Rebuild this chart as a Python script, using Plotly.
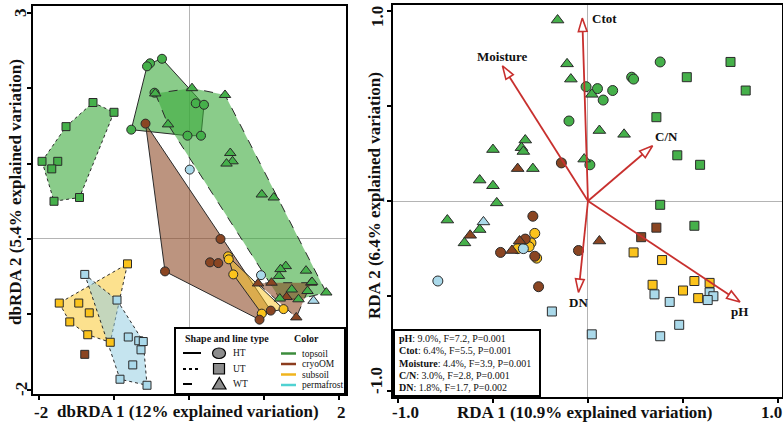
import plotly.graph_objects as go

# ---------------- dbRDA ordination (left panel) ----------------
db_topsoil_ht_x = [-0.36, -0.52, -0.56, -0.46, 0.09, 0.20, -0.77, -0.02, 0.16]
db_topsoil_ht_y = [2.39, 2.33, 2.29, 1.94, 1.80, 1.78, 1.45, 1.37, 1.37]
db_topsoil_ut_x = [-1.28, -1.00, -1.64, -1.96, -1.75, -1.83, -1.80, -1.46]
db_topsoil_ut_y = [1.81, 1.68, 1.49, 1.03, 1.03, 0.93, 0.50, 0.55]
db_topsoil_wt_x = [0.04, 0.48, -0.45, -0.28, 0.55, 0.58, 0.50, 0.97, 1.13,
                   1.29, 1.22, 1.56, 1.20, 1.64, 1.37, 1.58, 1.83, 1.21, 1.46]
db_topsoil_wt_y = [2.00, 1.91, 1.93, 1.52, 1.14, 1.03, 1.00, 0.59, 0.55,
                   -0.36, -0.40, -0.42, -0.49, -0.57, -0.67, -0.69, -0.71, -0.79, -0.80]

db_cryo_ht_x = [-0.58, 0.42, 0.28, 0.39, -0.32, 0.94, 1.09]
db_cryo_ht_y = [1.53, 0.00, -0.31, -0.32, -0.43, -1.07, -0.95]
db_cryo_ut_x = [-1.39]
db_cryo_ut_y = [-1.53]
db_cryo_wt_x = [0.92, 1.10, 1.30, 1.43, 1.63]
db_cryo_wt_y = [-0.59, -0.58, -0.77, -1.04, -0.58]

db_sub_ht_x = [0.52, 0.53, 0.59, 0.97, 1.26]
db_sub_ht_y = [-0.23, -0.27, -0.47, -0.99, -0.93]
db_sub_ut_x = [-0.82, -1.73, -1.47, -1.33, -1.59, -1.35, -1.05]
db_sub_ut_y = [-0.33, -0.85, -0.85, -0.98, -1.10, -1.27, -1.37]

db_perm_ht_x = [0.01, 0.96]
db_perm_ht_y = [0.92, -0.48]
db_perm_ut_x = [-1.39, -0.96, -0.81, -0.67, -0.61, -0.64, -0.75, -0.92, -0.56]
db_perm_ut_y = [-0.47, -0.81, -1.30, -1.35, -1.36, -1.47, -1.67, -1.86, -1.94]
db_perm_wt_x = [1.66]
db_perm_wt_y = [-0.82]

# ---------------- RDA ordination (right panel) ----------------
rda_topsoil_ht_x = [0.38, 0.23, 0.24, -0.01, 0.05, 0.13, 0.08, -0.10, 0.01]
rda_topsoil_ht_y = [0.73, 0.65, 0.64, 0.60, 0.59, 0.58, 0.53, 0.42, 0.19]
rda_topsoil_ut_x = [0.75, 0.52, 0.83, 0.36, 0.47, 0.59, 0.38, 0.56]
rda_topsoil_ut_y = [0.73, 0.65, 0.58, 0.44, 0.24, 0.19, -0.02, -0.13]
rda_topsoil_wt_x = [-0.16, -0.11, -0.09, 0.02, 0.06, 0.19, -0.33, -0.35, -0.34,
                    -0.50, -0.29, -0.02, -0.57, -0.50, -0.48, -0.74, -0.57, -0.65]
rda_topsoil_wt_y = [0.95, 0.72, 0.64, 0.56, 0.37, 0.35, 0.32, 0.28, 0.26,
                    0.27, 0.17, 0.22, 0.11, 0.08, -0.01, -0.10, -0.15, -0.22]

rda_cryo_ht_x = [-0.14, -0.29, -0.46, -0.05, -0.26, -0.28, -0.33]
rda_cryo_ht_y = [0.20, -0.08, -0.27, -0.26, -0.45, -0.29, -0.20]
rda_cryo_ut_x = [0.36, 0.28]
rda_cryo_ut_y = [-0.14, -0.19]
rda_cryo_wt_x = [-0.37, -0.62, -0.36, -0.40, 0.06]
rda_cryo_wt_y = [0.17, -0.18, -0.21, -0.26, -0.21]

rda_sub_ht_x = [-0.28, -0.30, -0.31, -0.37, -0.27]
rda_sub_ht_y = [-0.17, -0.22, -0.24, -0.25, -0.30]
rda_sub_ut_x = [0.24, 0.39, 0.34, 0.56, 0.50, 0.64, 0.58]
rda_sub_ut_y = [-0.27, -0.31, -0.44, -0.42, -0.47, -0.43, -0.51]

rda_perm_ht_x = [-0.34, -0.79]
rda_perm_ht_y = [-0.25, -0.42]
rda_perm_ut_x = [-0.19, 0.02, 0.35, 0.43, 0.48, 0.38, 0.64, 0.66, 0.63]
rda_perm_ut_y = [-0.58, -0.70, -0.49, -0.53, -0.65, -0.71, -0.48, -0.50, -0.52]
rda_perm_wt_x = [-0.55]
rda_perm_wt_y = [-0.11]

# environmental fitted vectors
env_names = ["Ctot", "Moisture", "C/N", "DN", "pH"]
env_x = [-0.03, -0.45, 0.34, -0.05, 0.80]
env_y = [0.96, 0.71, 0.29, -0.48, -0.53]

# forward-selection statistics
stat_var = ["pH", "Ctot", "Moisture", "C/N", "DN"]
stat_pct = [9.0, 6.4, 4.4, 3.0, 1.8]
stat_f = [7.2, 5.5, 3.9, 2.8, 1.7]
stat_p = [0.001, 0.001, 0.001, 0.001, 0.002]

layers = ["topsoil", "cryoOM", "subsoil", "permafrost"]
sites = ["HT", "UT", "WT"]

# axis ticks (only the outer ones carry a label)
db_xticks = [-2, -1, 0, 1, 2]
db_yticks = [-2, -1, 0, 1, 2, 3]
rda_ticks = [-1.0, -0.5, 0.0, 0.5, 1.0]

# ---------------- styling ----------------
W, H = 783, 425
SERIF = "Liberation Serif"
RED = "#c8302e"
MARK = {"topsoil": "#45b04a", "cryoOM": "#8a4522", "subsoil": "#fbc31c", "permafrost": "#aad9ea"}
FILL = {"topsoil": "rgba(60,170,60,0.6)", "cryoOM": "rgba(140,70,35,0.58)",
        "subsoil": "rgba(250,195,30,0.5)", "permafrost": "rgba(150,205,225,0.55)"}
LEG = {"topsoil": "#3c8c3c", "cryoOM": "#8c3c1e", "subsoil": "#f0b41e", "permafrost": "#50d2d2"}
SYM = {"HT": "circle", "UT": "square", "WT": "triangle-up"}
DASH = {"HT": "solid", "UT": "dot", "WT": "dash"}


def pxx(x):
    return x / W


def pxy(y):
    return 1 - y / H


db = {
    ("topsoil", "HT"): (db_topsoil_ht_x, db_topsoil_ht_y),
    ("topsoil", "UT"): (db_topsoil_ut_x, db_topsoil_ut_y),
    ("topsoil", "WT"): (db_topsoil_wt_x, db_topsoil_wt_y),
    ("cryoOM", "HT"): (db_cryo_ht_x, db_cryo_ht_y),
    ("cryoOM", "UT"): (db_cryo_ut_x, db_cryo_ut_y),
    ("cryoOM", "WT"): (db_cryo_wt_x, db_cryo_wt_y),
    ("subsoil", "HT"): (db_sub_ht_x, db_sub_ht_y),
    ("subsoil", "UT"): (db_sub_ut_x, db_sub_ut_y),
    ("permafrost", "HT"): (db_perm_ht_x, db_perm_ht_y),
    ("permafrost", "UT"): (db_perm_ut_x, db_perm_ut_y),
    ("permafrost", "WT"): (db_perm_wt_x, db_perm_wt_y),
}
rda = {
    ("topsoil", "HT"): (rda_topsoil_ht_x, rda_topsoil_ht_y),
    ("topsoil", "UT"): (rda_topsoil_ut_x, rda_topsoil_ut_y),
    ("topsoil", "WT"): (rda_topsoil_wt_x, rda_topsoil_wt_y),
    ("cryoOM", "HT"): (rda_cryo_ht_x, rda_cryo_ht_y),
    ("cryoOM", "UT"): (rda_cryo_ut_x, rda_cryo_ut_y),
    ("cryoOM", "WT"): (rda_cryo_wt_x, rda_cryo_wt_y),
    ("subsoil", "HT"): (rda_sub_ht_x, rda_sub_ht_y),
    ("subsoil", "UT"): (rda_sub_ut_x, rda_sub_ut_y),
    ("permafrost", "HT"): (rda_perm_ht_x, rda_perm_ht_y),
    ("permafrost", "UT"): (rda_perm_ut_x, rda_perm_ut_y),
    ("permafrost", "WT"): (rda_perm_wt_x, rda_perm_wt_y),
}


def convex_hull(xs, ys):
    pts = sorted(set(zip(xs, ys)))
    if len(pts) < 3:
        return pts

    def cross(o, a, b):
        return (a[0] - o[0]) * (b[1] - o[1]) - (a[1] - o[1]) * (b[0] - o[0])

    lower, upper = [], []
    for p in pts:
        while len(lower) >= 2 and cross(lower[-2], lower[-1], p) <= 0:
            lower.pop()
        lower.append(p)
    for p in reversed(pts):
        while len(upper) >= 2 and cross(upper[-2], upper[-1], p) <= 0:
            upper.pop()
        upper.append(p)
    return lower[:-1] + upper[:-1]


fig = go.Figure()

# group hulls (left panel)
for lay in layers:
    for s in sites:
        if (lay, s) not in db:
            continue
        xs, ys = db[(lay, s)]
        hull = convex_hull(xs, ys)
        if len(hull) < 3:
            continue
        hx = [p[0] for p in hull] + [hull[0][0]]
        hy = [p[1] for p in hull] + [hull[0][1]]
        fig.add_trace(go.Scatter(x=hx, y=hy, mode="lines", fill="toself",
                                 fillcolor=FILL[lay],
                                 line=dict(color="#2a2a2a", width=1, dash=DASH[s]),
                                 hoverinfo="skip", xaxis="x", yaxis="y"))

draw_order = ["subsoil", "permafrost", "cryoOM", "topsoil"]
for data, ax, ay, sz in [(db, "x", "y", 9), (rda, "x2", "y2", 10)]:
    for lay in draw_order:
        for s in sites:
            if (lay, s) not in data:
                continue
            xs, ys = data[(lay, s)]
            size = sz + (1 if s == "WT" else 0) - (1 if s == "UT" else 0)
            fig.add_trace(go.Scatter(
                x=xs, y=ys, mode="markers", xaxis=ax, yaxis=ay,
                name=f"{lay} {s}",
                marker=dict(symbol=SYM[s], size=size, color=MARK[lay],
                            line=dict(color="#2a2a2a", width=1))))

# environmental vectors with open arrow heads
for nm, ex, ey in zip(env_names, env_x, env_y):
    fig.add_trace(go.Scatter(
        x=[0, ex], y=[0, ey], mode="lines+markers", xaxis="x2", yaxis="y2",
        name=nm, hoverinfo="skip",
        line=dict(color=RED, width=1.8),
        marker=dict(symbol="arrow", size=14, angleref="previous",
                    opacity=[0, 1], color="white",
                    line=dict(color=RED, width=1.6))))

label_shift = {"Ctot": (22, 0), "Moisture": (0, 9), "C/N": (14, 9),
               "DN": (0, -10), "pH": (-1, -10)}
annotations = []
for nm, ex, ey in zip(env_names, env_x, env_y):
    dx, dy = label_shift[nm]
    annotations.append(dict(x=ex, y=ey, xref="x2", yref="y2", text=f"<b>{nm}</b>",
                            showarrow=False, xshift=dx, yshift=dy,
                            font=dict(family=SERIF, size=13, color="#111")))

# axis titles
title_font = dict(family=SERIF, size=17, color="#111")
annotations += [
    dict(x=pxx(15), y=pxy(192), xref="paper", yref="paper", textangle=-90,
         text="<b>dbRDA 2 (5.4% explained variation)</b>", showarrow=False,
         xanchor="center", yanchor="middle", font=title_font),
    dict(x=pxx(188), y=pxy(411), xref="paper", yref="paper",
         text="<b>dbRDA 1 (12% explained variation)</b>", showarrow=False,
         xanchor="center", yanchor="middle", font=title_font),
    dict(x=pxx(374), y=pxy(196), xref="paper", yref="paper", textangle=-90,
         text="<b>RDA 2 (6.4% explained variation)</b>", showarrow=False,
         xanchor="center", yanchor="middle", font=title_font),
    dict(x=pxx(584), y=pxy(412), xref="paper", yref="paper",
         text="<b>RDA 1 (10.9% explained variation)</b>", showarrow=False,
         xanchor="center", yanchor="middle", font=title_font),
]

# outer tick labels, set slightly inward from the end ticks
tick_font = dict(family=SERIF, size=17, color="#111")
tick_labels = [
    (f"{db_xticks[0]:d}", 41, 412, 0), (f"{db_xticks[-1]:d}", 341, 412, 0),
    (f"{db_yticks[-1]:d}", 20, 13, -90), (f"{db_yticks[0]:d}", 21, 389, -90),
    (f"{rda_ticks[0]:.1f}", 405, 412, 0), (f"{rda_ticks[-1]:.1f}", 771, 412, 0),
    (f"{rda_ticks[-1]:.1f}", 377, 17, -90), (f"{rda_ticks[0]:.1f}", 376, 381, -90),
]
for txt, tx, ty, ang in tick_labels:
    annotations.append(dict(x=pxx(tx), y=pxy(ty), xref="paper", yref="paper",
                            text=f"<b>{txt}</b>", showarrow=False, textangle=ang,
                            xanchor="center", yanchor="middle", font=tick_font))

small = dict(family=SERIF, size=10, color="#111")
leg_font = dict(family=SERIF, size=9.5, color="#111")
shapes = []

# legend box (left panel)
shapes.append(dict(type="rect", xref="paper", yref="paper", layer="above",
                   x0=pxx(175), x1=pxx(345), y0=pxy(394), y1=pxy(328),
                   fillcolor="white", line=dict(color="black", width=2)))
annotations.append(dict(x=pxx(183), y=pxy(338), xref="paper", yref="paper",
                        text="<b>Shape and line type</b>", showarrow=False,
                        xanchor="left", yanchor="middle", font=small))
annotations.append(dict(x=pxx(292), y=pxy(338), xref="paper", yref="paper",
                        text="<b>Color</b>", showarrow=False,
                        xanchor="left", yanchor="middle", font=small))
row_y = [353, 369, 384]
for s, ry in zip(sites, row_y):
    shapes.append(dict(type="line", xref="paper", yref="paper", layer="above",
                       x0=pxx(183), x1=pxx(201), y0=pxy(ry), y1=pxy(ry),
                       line=dict(color="black", width=2, dash=DASH[s])))
    annotations.append(dict(x=pxx(231), y=pxy(ry), xref="paper", yref="paper",
                            text=s, showarrow=False, xanchor="left",
                            yanchor="middle", font=leg_font))
grey = dict(fillcolor="#8c8c8c", line=dict(color="black", width=1.2))
shapes.append(dict(type="circle", xref="paper", yref="paper", layer="above",
                   x0=pxx(212.5), x1=pxx(225.5), y0=pxy(358.5), y1=pxy(348), **grey))
shapes.append(dict(type="rect", xref="paper", yref="paper", layer="above",
                   x0=pxx(213.5), x1=pxx(224.5), y0=pxy(374), y1=pxy(363.5), **grey))
shapes.append(dict(type="path", xref="paper", yref="paper", layer="above",
                   path=f"M{pxx(212.5)},{pxy(389)} L{pxx(226)},{pxy(389)} "
                        f"L{pxx(219.3)},{pxy(377.5)} Z", **grey))
col_y = [353.5, 364, 374.5, 385]
for lay, cy in zip(layers, col_y):
    shapes.append(dict(type="line", xref="paper", yref="paper", layer="above",
                       x0=pxx(281), x1=pxx(296), y0=pxy(cy), y1=pxy(cy),
                       line=dict(color=LEG[lay], width=2.5)))
    annotations.append(dict(x=pxx(299.5), y=pxy(cy), xref="paper", yref="paper",
                            text=lay, showarrow=False, xanchor="left",
                            yanchor="middle", font=leg_font))

# statistics box (right panel)
shapes.append(dict(type="rect", xref="paper", yref="paper", layer="above",
                   x0=pxx(394), x1=pxx(540), y0=pxy(396), y1=pxy(330),
                   fillcolor="white", line=dict(color="black", width=2)))
stat_y = [338, 350.5, 363, 375, 387]
for v, pc, f, p, sy in zip(stat_var, stat_pct, stat_f, stat_p, stat_y):
    annotations.append(dict(x=pxx(397), y=pxy(sy), xref="paper", yref="paper",
                            text=f"<b>{v}</b>: {pc:.1f}%, F={f:.1f}, P={p:.3f}",
                            showarrow=False, xanchor="left", yanchor="middle",
                            font=small))

axis_common = dict(showline=True, linecolor="black", linewidth=2.2, mirror=True,
                   ticks="outside", ticklen=4, tickwidth=1.5, tickcolor="black",
                   showgrid=False, zeroline=True, zerolinecolor="#b4b4b4",
                   zerolinewidth=1, showticklabels=False)

fig.update_layout(
    width=W, height=H, margin=dict(l=0, r=0, t=0, b=0),
    paper_bgcolor="white", plot_bgcolor="white", showlegend=False,
    xaxis=dict(domain=[pxx(33), pxx(346)], range=[-2.08, 2.093], anchor="y",
               tickvals=db_xticks, **axis_common),
    yaxis=dict(domain=[pxy(394), pxy(6)], range=[-2.056, 3.09], anchor="x",
               tickvals=db_yticks, **axis_common),
    xaxis2=dict(domain=[pxx(393), pxx(782)], range=[-1.026, 1.021], anchor="y2",
                tickvals=rda_ticks, **axis_common),
    yaxis2=dict(domain=[pxy(397), pxy(5)], range=[-1.029, 1.029], anchor="x2",
                tickvals=rda_ticks, **axis_common),
    shapes=shapes, annotations=annotations,
)

fig.write_html("out.html")
